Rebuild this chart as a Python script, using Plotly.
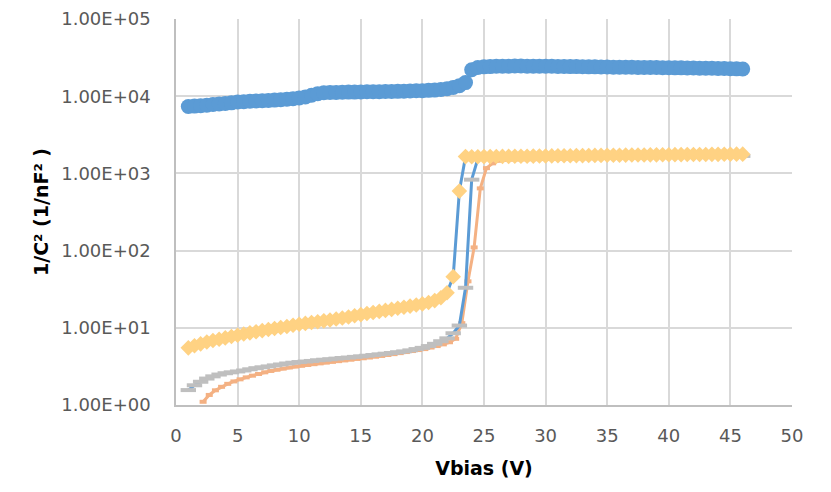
import plotly.graph_objects as go

# ---------------- data ----------------
v_blue = [1.0, 1.5, 2.0, 2.5, 3.0, 3.5, 4.0, 4.5, 5.0, 5.5, 6.0, 6.5, 7.0, 7.5, 8.0, 8.5, 9.0, 9.5,
          10.0, 10.5, 11.0, 11.5, 12.0, 12.5, 13.0, 13.5, 14.0, 14.5, 15.0, 15.5, 16.0, 16.5, 17.0,
          17.5, 18.0, 18.5, 19.0, 19.5, 20.0, 20.5, 21.0, 21.5, 22.0, 22.5, 23.0, 23.5, 24.0, 24.5,
          25.0, 25.5, 26.0, 26.5, 27.0, 27.5, 28.0, 28.5, 29.0, 29.5, 30.0, 30.5, 31.0, 31.5, 32.0,
          32.5, 33.0, 33.5, 34.0, 34.5, 35.0, 35.5, 36.0, 36.5, 37.0, 37.5, 38.0, 38.5, 39.0, 39.5,
          40.0, 40.5, 41.0, 41.5, 42.0, 42.5, 43.0, 43.5, 44.0, 44.5, 45.0, 45.5, 46.0]
inv_c2_blue = [7350, 7450, 7550, 7650, 7800, 7950, 8050, 8200, 8400, 8500, 8600, 8700, 8750, 8800,
               8900, 9000, 9150, 9300, 9500, 9800, 10300, 10800, 11100, 11200, 11200, 11250, 11300,
               11300, 11350, 11400, 11400, 11450, 11500, 11500, 11550, 11600, 11700, 11750, 11800,
               11900, 12000, 12200, 12500, 13000, 13700, 15000, 22000, 23500, 24000, 24200, 24400,
               24500, 24500, 24600, 24600, 24500, 24500, 24500, 24400, 24400, 24300, 24300, 24200,
               24200, 24100, 24000, 24000, 23900, 23900, 23800, 23800, 23700, 23700, 23600, 23600,
               23500, 23500, 23400, 23400, 23300, 23300, 23200, 23200, 23100, 23000, 23000, 22900,
               22800, 22700, 22600, 22500]

v_orange = [2.2, 2.7, 3.2, 3.7, 4.2, 4.7, 5.2, 5.7, 6.2, 6.7, 7.2, 7.7, 8.2, 8.7, 9.2, 9.7, 10.2,
            10.7, 11.2, 11.7, 12.2, 12.7, 13.2, 13.7, 14.2, 14.7, 15.2, 15.7, 16.2, 16.7, 17.2, 17.7,
            18.2, 18.7, 19.2, 19.7, 20.2, 20.7, 21.2, 21.7, 22.2, 22.7, 23.2, 23.7, 24.2, 24.7, 25.2,
            25.7, 26.2, 26.7, 27.2, 27.7, 28.2, 28.7, 29.2, 29.7, 30.2, 30.7, 31.2, 31.7, 32.2, 32.7,
            33.2, 33.7, 34.2, 34.7, 35.2, 35.7, 36.2, 36.7, 37.2, 37.7, 38.2, 38.7, 39.2, 39.7, 40.2,
            40.7, 41.2, 41.7, 42.2, 42.7, 43.2, 43.7, 44.2, 44.7, 45.2, 45.7]
inv_c2_orange = [1.1, 1.35, 1.55, 1.72, 1.88, 2.02, 2.15, 2.28, 2.4, 2.52, 2.65, 2.76, 2.86, 2.96,
                 3.06, 3.15, 3.22, 3.3, 3.38, 3.46, 3.54, 3.62, 3.7, 3.78, 3.86, 3.95, 4.03, 4.12,
                 4.22, 4.32, 4.44, 4.56, 4.7, 4.85, 5.0, 5.15, 5.3, 5.55, 5.8, 6.1, 6.5, 7.2, 11.5,
                 40, 110, 640, 1170, 1350, 1460, 1500, 1510, 1515, 1520, 1525, 1530, 1535, 1540,
                 1545, 1550, 1555, 1560, 1565, 1570, 1575, 1580, 1585, 1590, 1595, 1600, 1605, 1610,
                 1615, 1620, 1625, 1630, 1635, 1640, 1645, 1650, 1655, 1660, 1665, 1670, 1675, 1680,
                 1685, 1690, 1695]

v_gray = v_blue
inv_c2_gray = [1.56, 1.8, 2.0, 2.2, 2.35, 2.48, 2.58, 2.65, 2.72, 2.8, 2.9, 3.0, 3.08, 3.16, 3.26,
               3.35, 3.45, 3.53, 3.6, 3.66, 3.72, 3.8, 3.86, 3.92, 3.99, 4.06, 4.12, 4.2, 4.27, 4.35,
               4.44, 4.53, 4.62, 4.72, 4.83, 4.95, 5.1, 5.3, 5.5, 5.8, 6.2, 6.7, 7.3, 8.5, 10.7, 33,
               830, 1550, 1580, 1590, 1595, 1600, 1600, 1605, 1605, 1610, 1610, 1615, 1615, 1620,
               1620, 1625, 1625, 1630, 1630, 1635, 1635, 1640, 1640, 1645, 1645, 1650, 1650, 1655,
               1655, 1660, 1660, 1665, 1665, 1670, 1670, 1670, 1675, 1675, 1675, 1680, 1680, 1680,
               1685, 1685, 1685]

v_yellow = v_blue
inv_c2_yellow = [5.5, 5.85, 6.2, 6.55, 6.85, 7.1, 7.4, 7.7, 8.0, 8.3, 8.6, 8.9, 9.2, 9.5, 9.8, 10.1,
                 10.4, 10.8, 11.1, 11.4, 11.7, 12.0, 12.3, 12.6, 13.0, 13.4, 13.8, 14.3, 14.8, 15.3,
                 15.8, 16.3, 16.8, 17.3, 17.9, 18.5, 19.1, 19.7, 20.4, 21.3, 22.5, 24.5, 28.5, 46,
                 590, 1650, 1640, 1645, 1650, 1650, 1655, 1660, 1660, 1665, 1670, 1670, 1675, 1680,
                 1680, 1685, 1690, 1690, 1695, 1700, 1700, 1705, 1710, 1710, 1715, 1720, 1720, 1725,
                 1730, 1730, 1735, 1740, 1740, 1745, 1745, 1750, 1750, 1755, 1755, 1760, 1760, 1765,
                 1765, 1770, 1770, 1775, 1775]

y_tickvals = [1, 10, 100, 1000, 10000, 100000]
y_ticktext = ["1.00E+00", "1.00E+01", "1.00E+02", "1.00E+03", "1.00E+04", "1.00E+05"]
x_tickvals = [0, 5, 10, 15, 20, 25, 30, 35, 40, 45, 50]

BLUE = "#5B9BD5"
ORANGE = "#F4B183"
GRAY = "#BFBFBF"
YELLOW = "#FFD283"
FONT = "DejaVu Sans"

fig = go.Figure()
fig.add_trace(go.Scatter(x=v_blue, y=inv_c2_blue, mode="lines+markers",
                         line=dict(color=BLUE, width=3),
                         marker=dict(symbol="circle", size=15, color=BLUE)))
fig.add_trace(go.Scatter(x=v_orange, y=inv_c2_orange, mode="lines+markers",
                         line=dict(color=ORANGE, width=3),
                         marker=dict(symbol="line-ew", size=5, color=ORANGE,
                                     line=dict(color=ORANGE, width=4))))
fig.add_trace(go.Scatter(x=v_gray, y=inv_c2_gray, mode="lines+markers",
                         line=dict(color=BLUE, width=3),
                         marker=dict(symbol="line-ew", size=11, color=GRAY,
                                     line=dict(color=GRAY, width=4))))
fig.add_trace(go.Scatter(x=v_yellow, y=inv_c2_yellow, mode="lines+markers",
                         line=dict(color=BLUE, width=3),
                         marker=dict(symbol="diamond", size=12, color=YELLOW,
                                     line=dict(width=0))))

# page body has an 8px default margin, so the figure is laid out 8px smaller
fig.update_layout(
    width=823, height=484,
    margin=dict(l=168, r=39, t=11, b=87, autoexpand=False),
    paper_bgcolor="white", plot_bgcolor="white",
    showlegend=False,
    font=dict(family=FONT, size=18, color="#595959"),
)
fig.update_xaxes(
    range=[0, 50], tickvals=x_tickvals, automargin=False, ticklabeloverflow="allow",
    showgrid=True, gridcolor="#D9D9D9", gridwidth=1.5,
    showline=True, linecolor="#BFBFBF", linewidth=1.5,
    zeroline=False,
    ticks="outside", ticklen=14, tickcolor="rgba(0,0,0,0)",
    title=dict(text="<b>Vbias (V)</b>", font=dict(family=FONT, size=19, color="#000000"),
               standoff=16),
)
fig.update_yaxes(
    type="log", range=[0, 5.0001], tickvals=y_tickvals, ticktext=y_ticktext, automargin=False,
    ticklabeloverflow="allow",
    showgrid=True, gridcolor="#D9D9D9", gridwidth=1.5,
    showline=True, linecolor="#BFBFBF", linewidth=1.5,
    zeroline=False,
    ticks="outside", ticklen=20, tickcolor="rgba(0,0,0,0)",
    title=dict(text="<b>1/C² (1/nF² )</b>", font=dict(family=FONT, size=19, color="#000000"),
               standoff=8),
)

fig.write_html("out.html")
